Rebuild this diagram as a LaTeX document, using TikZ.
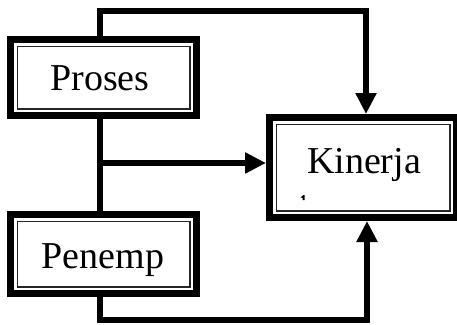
\documentclass[tikz,border=0pt]{standalone}
\usepackage{fontspec}
\setmainfont{Liberation Serif}
\usetikzlibrary{arrows.meta}
\begin{document}
\begin{tikzpicture}[x=1pt,y=-1pt,
  frame/.style={draw,line width=7pt,rectangle,inner sep=0pt},
  innerframe/.style={draw,line width=1.5pt,black!85},
  lbl/.style={anchor=base,inner sep=0pt,font=\fontsize{38}{40}\selectfont},
  conn/.style={line width=5.5pt},
  arr/.style={conn,-{Triangle[width=20pt,length=21pt]}}]
\useasboundingbox (0,0) rectangle (457,324);
% frames
\node[frame,minimum width=186pt,minimum height=76pt] (P) at (103.5,77.5) {};
\node[frame,minimum width=186pt,minimum height=79pt] (N) at (103.5,254) {};
\node[frame,minimum width=187pt,minimum height=100pt] (K) at (363,167.5) {};
\draw[innerframe] ([xshift=10.25pt,yshift=-10.25pt]P.north west) rectangle ([xshift=-10.25pt,yshift=10.25pt]P.south east);
\draw[innerframe] ([xshift=10.25pt,yshift=-10.25pt]N.north west) rectangle ([xshift=-10.25pt,yshift=10.25pt]N.south east);
\draw[innerframe] ([xshift=10.25pt,yshift=-10.25pt]K.north west) rectangle ([xshift=-10.25pt,yshift=10.25pt]K.south east);
% labels
\node[lbl] (Pt) at (100,90.5) {Proses};
\node[lbl] (Nt) at (103,268) {Penemp};
\node[lbl] (Kt) at (364,173) {Kinerja};
% small mark
\fill (300.5,197.5) -- (303.5,195) -- (304.5,195) -- (304.5,200) -- (302.5,200) -- (302.5,197.8) -- cycle;
% connector corners
\coordinate (tl) at (100,11);
\coordinate (tr) at (366,11);
\coordinate (m) at (100,163);
\coordinate (bl) at (100,320);
\coordinate (br) at (367,320);
% connectors
\draw[arr] (P.north -| tl) -- (tl) -- (tr) -- (K.north -| tr);
\draw[conn] (P.south -| tl) -- (N.north -| tl);
\draw[arr] (m) -- (K.west |- m);
\draw[arr] (N.south -| bl) -- (bl) -- (br) -- (K.south -| br);
\end{tikzpicture}
\end{document}
